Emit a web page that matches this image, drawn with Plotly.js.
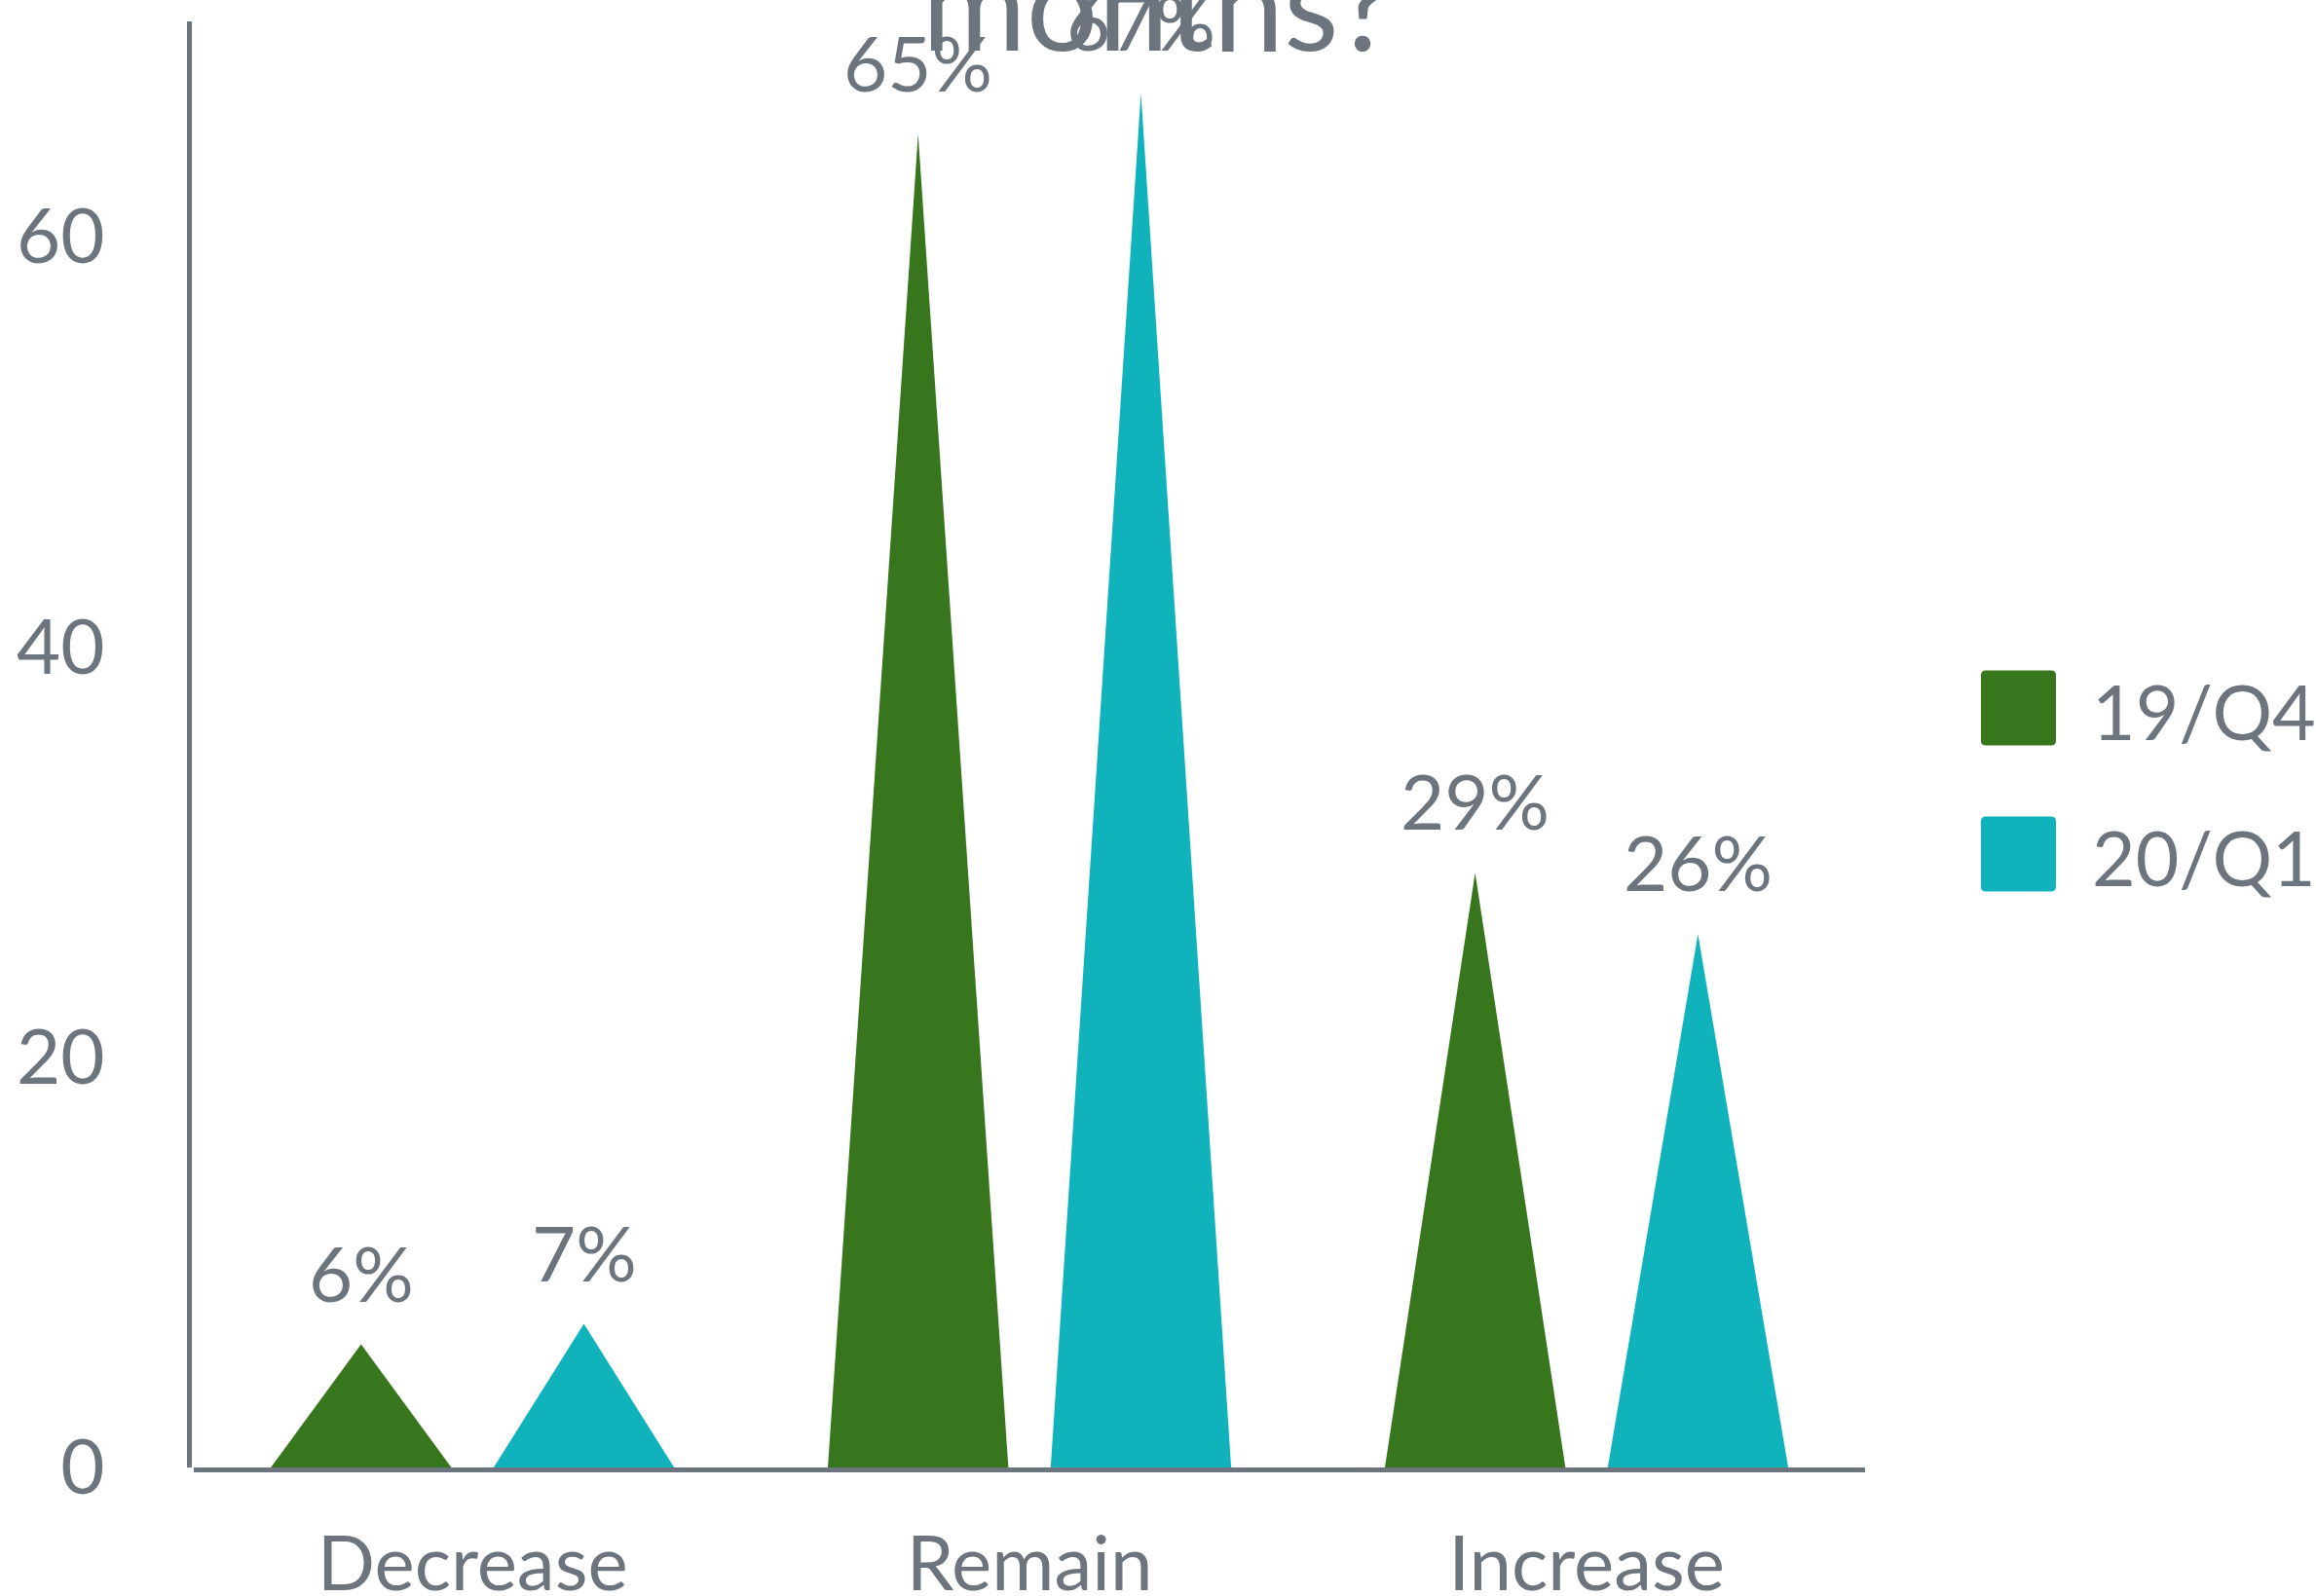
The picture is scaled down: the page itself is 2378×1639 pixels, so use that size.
<!DOCTYPE html>
<html>
<head>
<meta charset="utf-8">
<script src="https://cdn.plot.ly/plotly-3.0.1.min.js"></script>
<style>
  html, body { margin: 0; padding: 0; background: #ffffff; }
  #chart { width: 2378px; height: 1639px; }
</style>
</head>
<body>
<div id="chart"></div>
<script>
// Survey answers per period, in percent
const categories = ['Decrease', 'Remain', 'Increase'];
const seriesNames = ['19/Q4', '20/Q1'];
const values19Q4 = [6, 65, 29];
const values20Q1 = [7, 67, 26];
const yTicks = [0, 20, 40, 60];
const titleText = 'months?';

const seriesValues = [values19Q4, values20Q1];
const seriesColors = ['#38761d', '#10b3bc'];
const gray = '#6c757d';
const font = 'Lato, "Noto Sans", sans-serif';

// each period sits left/right of the category centre; spike width in category units
const offsets = [-0.2, 0.2];
const spikeWidth = 0.324;

const traces = [];
const annotations = [];

seriesValues.forEach((vals, j) => {
  vals.forEach((v, i) => {
    const cx = i + offsets[j];
    traces.push({
      type: 'scatter',
      mode: 'lines',
      x: [cx - spikeWidth / 2, cx, cx + spikeWidth / 2, cx - spikeWidth / 2],
      y: [0, v, 0, 0],
      fill: 'toself',
      fillcolor: seriesColors[j],
      line: { width: 0, color: seriesColors[j] },
      name: seriesNames[j],
      showlegend: false,
      hoverinfo: 'skip'
    });
    annotations.push({
      x: cx, y: v, xref: 'x', yref: 'y',
      text: v + '%',
      showarrow: false,
      xanchor: 'center', yanchor: 'bottom',
      yshift: 25,
      font: { family: font, size: 78, color: gray }
    });
  });
});

// legend drawn as rounded swatches with labels to the right of the plot
const plotLeft = 194, plotWidth = 1721, plotBottom = 1507, plotHeight = 1485;
const px2x = p => (p - plotLeft) / plotWidth;
const px2y = p => (plotBottom - p) / plotHeight;
const legendRows = [727, 877];
const h = 38.5, r = 5;
const swatchPath = `M ${-h + r},${-h} L ${h - r},${-h} Q ${h},${-h} ${h},${-h + r} L ${h},${h - r} Q ${h},${h} ${h - r},${h} L ${-h + r},${h} Q ${-h},${h} ${-h},${h - r} L ${-h},${-h + r} Q ${-h},${-h} ${-h + r},${-h} Z`;
const shapes = [];
seriesNames.forEach((name, j) => {
  shapes.push({
    type: 'path', xref: 'paper', yref: 'paper',
    xsizemode: 'pixel', ysizemode: 'pixel',
    xanchor: px2x(2072.5), yanchor: px2y(legendRows[j]),
    path: swatchPath,
    fillcolor: seriesColors[j],
    line: { width: 0 }
  });
  annotations.push({
    x: px2x(2146), y: px2y(legendRows[j] + 3), xref: 'paper', yref: 'paper',
    text: name, showarrow: false,
    xanchor: 'left', yanchor: 'middle',
    font: { family: font, size: 77, color: gray }
  });
});

const layout = {
  width: 2378,
  height: 1639,
  margin: { l: 194, r: 463, t: 22, b: 132, pad: 0 },
  paper_bgcolor: '#ffffff',
  plot_bgcolor: '#ffffff',
  showlegend: false,
  title: {
    text: titleText,
    x: 0.5, xref: 'container', xanchor: 'center',
    y: 0.996, yref: 'container', yanchor: 'middle',
    font: { family: font, size: 130, color: gray }
  },
  xaxis: {
    domain: [0.003, 1],
    range: [-0.5, 2.5],
    tickvals: [0, 1, 2],
    ticktext: categories,
    showgrid: false,
    zeroline: false,
    showline: true,
    linecolor: gray,
    linewidth: 5,
    ticks: '',
    ticklabelstandoff: 27,
    tickfont: { family: font, size: 78, color: gray },
    fixedrange: true
  },
  yaxis: {
    range: [0, 70.5],
    anchor: 'free',
    position: 0,
    tickvals: yTicks,
    ticktext: yTicks.map(String),
    showgrid: false,
    zeroline: false,
    showline: true,
    linecolor: gray,
    linewidth: 5,
    ticks: '',
    ticklabelstandoff: 69,
    tickfont: { family: font, size: 78, color: gray },
    fixedrange: true
  },
  annotations: annotations,
  shapes: shapes
};

Plotly.newPlot('chart', traces, layout, { displayModeBar: false, staticPlot: true });
</script>
</body>
</html>
